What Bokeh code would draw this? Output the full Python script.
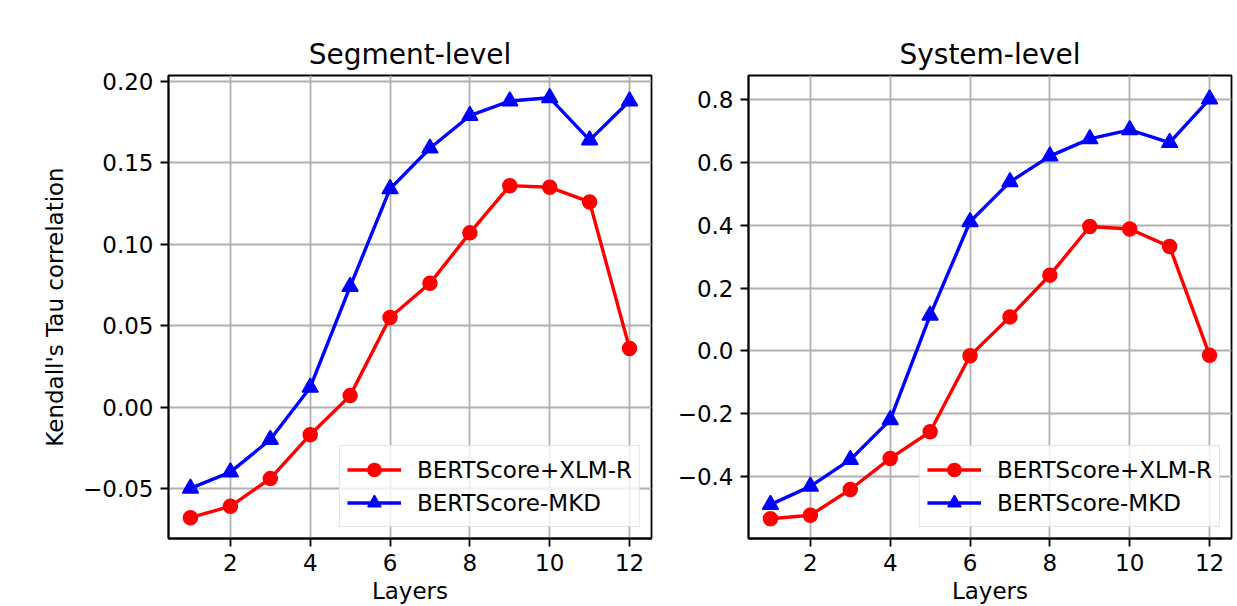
from bokeh.plotting import figure
from bokeh.layouts import row
from bokeh.models import Range1d, FixedTicker, Legend, LegendItem
from bokeh.embed import file_html
from bokeh.resources import INLINE

# ---------------- data ----------------
layers = [1, 2, 3, 4, 5, 6, 7, 8, 9, 10, 11, 12]

seg_xlmr = [-0.068, -0.061, -0.044, -0.017, 0.007, 0.055, 0.076, 0.107, 0.136, 0.135, 0.126, 0.036]
seg_mkd = [-0.050, -0.040, -0.020, 0.012, 0.074, 0.134, 0.159, 0.179, 0.188, 0.190, 0.164, 0.188]

sys_xlmr = [-0.535, -0.524, -0.442, -0.343, -0.258, -0.016, 0.108, 0.241, 0.396, 0.388, 0.332, -0.014]
sys_mkd = [-0.490, -0.432, -0.347, -0.220, 0.113, 0.411, 0.538, 0.620, 0.675, 0.704, 0.663, 0.802]

series_names = ["BERTScore+XLM-R", "BERTScore-MKD"]
titles = ["Segment-level", "System-level"]
x_label = "Layers"
y_label = "Kendall's Tau correlation"

x_ticks = [2, 4, 6, 8, 10, 12]
seg_yticks = [-0.05, 0.0, 0.05, 0.10, 0.15, 0.20]
seg_ytick_labels = ["\u22120.05", "0.00", "0.05", "0.10", "0.15", "0.20"]
sys_yticks = [-0.4, -0.2, 0.0, 0.2, 0.4, 0.6, 0.8]
sys_ytick_labels = ["\u22120.4", "\u22120.2", "0.0", "0.2", "0.4", "0.6", "0.8"]

FONT = "DejaVu Sans"
RED = "#ff0000"
BLUE = "#0000ff"


def make_panel(title, xlmr, mkd, yticks, ylabels, yrange, width, bl, br, ylab=None):
    p = figure(width=width, height=606, output_backend="svg", toolbar_location=None,
               x_range=Range1d(0.45, 12.55), y_range=Range1d(*yrange),
               min_border_left=bl, min_border_right=br, min_border_top=75, min_border_bottom=0,
               background_fill_color="white", border_fill_color="white")
    p.title.text = title
    p.title.align = "center"
    p.title.text_font = FONT
    p.title.text_font_size = "28px"
    p.title.text_font_style = "normal"
    p.title.text_color = "#000000"
    p.title.standoff = 10

    p.outline_line_color = "black"
    p.outline_line_width = 1.8
    p.outline_line_alpha = 1.0

    p.xaxis.ticker = FixedTicker(ticks=x_ticks, minor_ticks=[])
    p.yaxis.ticker = FixedTicker(ticks=yticks, minor_ticks=[])
    p.yaxis.major_label_overrides = {t: l for t, l in zip(yticks, ylabels)}

    for ax in (p.xaxis[0], p.yaxis[0]):
        ax.axis_line_color = "black"
        ax.axis_line_width = 1.8
        ax.major_tick_line_color = "black"
        ax.major_tick_line_width = 1.8
        ax.major_tick_in = 0
        ax.major_tick_out = 8
        ax.minor_tick_line_color = None
        ax.major_label_text_font = FONT
        ax.major_label_text_font_size = "23px"
        ax.major_label_text_color = "#000000"
        ax.axis_label_text_font = FONT
        ax.axis_label_text_font_size = "23px"
        ax.axis_label_text_font_style = "normal"
        ax.axis_label_text_color = "#000000"

    p.xaxis.axis_label = x_label
    p.xaxis.major_label_standoff = 7
    p.xaxis.axis_label_standoff = 4
    p.yaxis.major_label_standoff = 7
    if ylab:
        p.yaxis.axis_label = ylab
        p.yaxis.axis_label_standoff = 12

    p.xgrid.ticker = FixedTicker(ticks=x_ticks)
    p.ygrid.ticker = FixedTicker(ticks=yticks)
    for g in (p.xgrid[0], p.ygrid[0]):
        g.grid_line_color = "#b0b0b0"
        g.grid_line_width = 1.8
        g.grid_line_alpha = 1.0

    l1 = p.line(layers, xlmr, line_color=RED, line_width=3.4)
    s1 = p.scatter(layers, xlmr, marker="circle", size=14, fill_color=RED, line_color=RED, line_width=1.5)
    l2 = p.line(layers, mkd, line_color=BLUE, line_width=3.4)
    s2 = p.scatter(layers, mkd, marker="triangle", size=16, fill_color=BLUE, line_color=BLUE, line_width=1.5)

    legend = Legend(items=[LegendItem(label=series_names[0], renderers=[l1, s1]),
                           LegendItem(label=series_names[1], renderers=[l2, s2])],
                    location="bottom_right")
    legend.margin = 11
    legend.padding = 7
    legend.spacing = -2
    legend.glyph_width = 54
    legend.glyph_height = 33
    legend.label_standoff = 16
    legend.label_text_font = FONT
    legend.label_text_font_size = "23px"
    legend.label_text_color = "#000000"
    legend.border_line_color = "#cccccc"
    legend.border_line_width = 1.8
    legend.background_fill_color = "white"
    legend.background_fill_alpha = 0.8
    p.add_layout(legend, "center")
    return p


p1 = make_panel(titles[0], seg_xlmr, seg_mkd, seg_yticks, seg_ytick_labels,
                (-0.0808, 0.2037), 653, 168, 2, y_label)
p2 = make_panel(titles[1], sys_xlmr, sys_mkd, sys_yticks, sys_ytick_labels,
                (-0.598, 0.877), 580, 95, 2)

layout = row(p1, p2)
open("out.html", "w").write(file_html(layout, INLINE))
